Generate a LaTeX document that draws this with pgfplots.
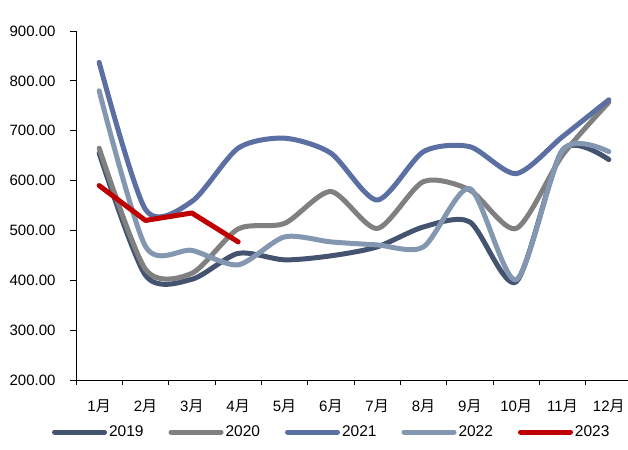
\documentclass[border=0pt]{standalone}
\usepackage{fontspec}
\setmainfont{Liberation Sans}
\newfontfamily\cjk{Noto Sans CJK SC}
\usepackage{pgfplots}
\pgfplotsset{compat=1.18}
\definecolor{c19}{RGB}{68,84,112}
\definecolor{c20}{RGB}{128,128,128}
\definecolor{c21}{RGB}{91,111,163}
\definecolor{c22}{RGB}{132,151,176}
\definecolor{c23}{RGB}{192,0,0}
\begin{document}
\begin{tikzpicture}
\useasboundingbox (-76bp,-70bp) rectangle (552bp,380bp);
\begin{axis}[
  scale only axis,
  width=556bp, height=349bp,
  xmin=0.5, xmax=12.5,
  ymin=200, ymax=900,
  ytick={200,300,...,900},
  xtick={1,...,12},
  xticklabels={1{\cjk 月},2{\cjk 月},3{\cjk 月},4{\cjk 月},5{\cjk 月},6{\cjk 月},7{\cjk 月},8{\cjk 月},9{\cjk 月},10{\cjk 月},11{\cjk 月},12{\cjk 月}},
  minor xtick={0.5,1.5,...,11.5},
  every major x tick/.append style={draw=none},
  tick align=outside,
  major tick length=6bp,
  minor tick length=5bp,
  tick style={black, line width=0.8bp},
  axis x line*=bottom,
  axis y line*=left,
  axis line style={black, line width=0.8bp},
  font=\fontsize{15bp}{17bp}\selectfont,
  ticklabel style={font=\fontsize{15bp}{17bp}\selectfont},
  /pgf/number format/.cd, fixed, fixed zerofill, precision=2, 1000 sep={}, assume math mode=true,
  /pgfplots/.cd,
  xticklabel style={yshift=-10bp},
  yticklabel style={xshift=-11bp},
  legend style={draw=none, fill=none, at={(axis description cs:0.46,-0.149)}, anchor=center,
    font=\fontsize{15.5bp}{17bp}\selectfont,
    /tikz/every even column/.append style={column sep=23bp},
    nodes={inner sep=2bp}},
  legend columns=5,
  legend image code/.code={\draw[#1, line cap=round] (0bp,0bp) -- (50bp,0bp);},
  every axis plot/.append style={line width=5bp, line cap=round, line join=round},
  clip=false,
]
\addplot[c19, smooth, tension=0.45] coordinates {(1,655) (2,410) (3,402) (4,454) (5,441) (6,449) (7,467) (8,507) (9,517) (10,397) (11,661) (12,642)};
\addplot[c20, smooth, tension=0.45] coordinates {(1,665) (2,422) (3,414) (4,503) (5,514) (6,578) (7,504) (8,598) (9,581) (10,504) (11,651) (12,757)};
\addplot[c21, smooth, tension=0.45] coordinates {(1,837) (2,542) (3,558) (4,665) (5,685) (6,655) (7,561) (8,658) (9,668) (10,614) (11,688) (12,762)};
\addplot[c22, smooth, tension=0.45] coordinates {(1,780) (2,468) (3,460) (4,431) (5,487) (6,477) (7,471) (8,467) (9,584) (10,401) (11,661) (12,658)};
\addplot[c23] coordinates {(1,590) (2,520) (3,535) (4,477)};
\legend{2019,2020,2021,2022,2023}
\end{axis}
\end{tikzpicture}
\end{document}
